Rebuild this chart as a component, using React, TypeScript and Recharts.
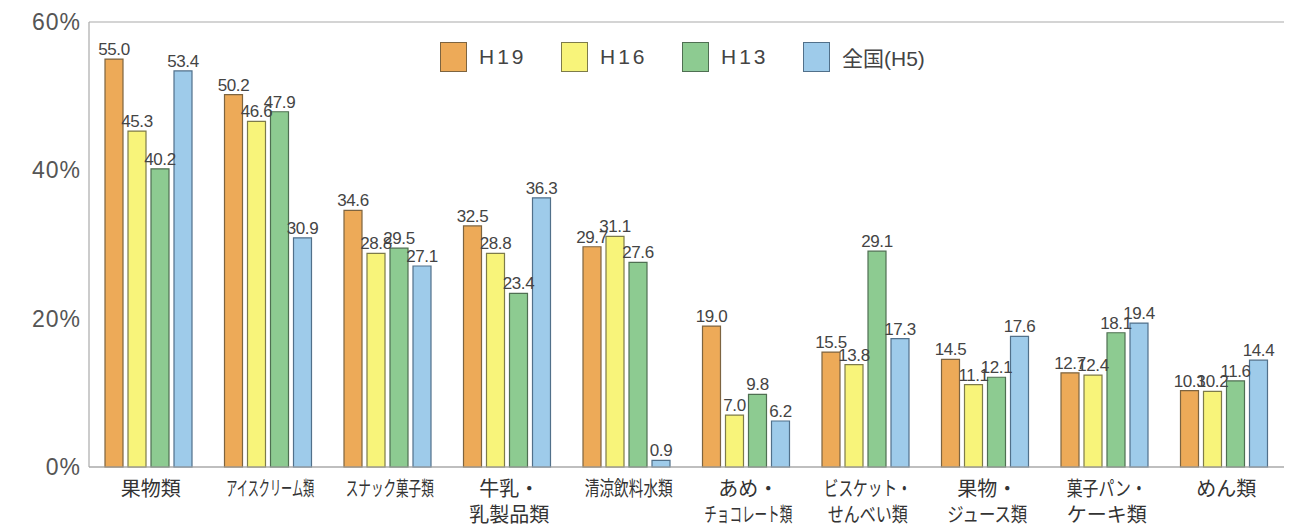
import { BarChart, Bar, XAxis, YAxis, CartesianGrid, Legend, LabelList } from "recharts";

const categories = [
    "果物類",
    "アイスクリーム類",
    "スナック菓子類",
    "牛乳・\n乳製品類",
    "清涼飲料水類",
    "あめ・\nチョコレート類",
    "ビスケット・\nせんべい類",
    "果物・\nジュース類",
    "菓子パン・\nケーキ類",
    "めん類",
];

const h19 = [55.0, 50.2, 34.6, 32.5, 29.7, 19.0, 15.5, 14.5, 12.7, 10.3];
const h16 = [45.3, 46.6, 28.8, 28.8, 31.1, 7.0, 13.8, 11.1, 12.4, 10.2];
const h13 = [40.2, 47.9, 29.5, 23.4, 27.6, 9.8, 29.1, 12.1, 18.1, 11.6];
const zenkoku = [53.4, 30.9, 27.1, 36.3, 0.9, 6.2, 17.3, 17.6, 19.4, 14.4];

const yTicks = [0, 20, 40, 60];

const data = categories.map((name, i) => ({
    name,
    h19: h19[i],
    h16: h16[i],
    h13: h13[i],
    zenkoku: zenkoku[i],
}));

const series = [
    { key: "h19", name: "H19", fill: "#EDAA58", stroke: "#7d6440" },
    { key: "h16", name: "H16", fill: "#F8F47A", stroke: "#7d7b4a" },
    { key: "h13", name: "H13", fill: "#8DCB91", stroke: "#4f6f52" },
    { key: "zenkoku", name: "全国(H5)", fill: "#9ECBEA", stroke: "#51708a" },
];

const CategoryTick = (props: any) => {
    const { x, y, payload } = props;
    const lines = String(payload.value).split("\n");
    return (
        <g>
            {lines.map((line: string, i: number) => {
                const n = line.length;
                const extra = n >= 5 ? { textLength: Math.min(n * 16, 88), lengthAdjust: "spacingAndGlyphs" } : {};
                return (
                    <text
                        key={i}
                        x={x + 2}
                        y={y + 21 + i * 26}
                        textAnchor="middle"
                        fontSize={20}
                        fill="#333"
                        fontFamily="'Noto Sans CJK JP', sans-serif"
                        {...extra}
                    >
                        {line}
                    </text>
                );
            })}
        </g>
    );
};

const ValueLabel = (props: any) => {
    const { x, y, width, value } = props;
    return (
        <text
            x={x + width / 2}
            y={y - 4}
            textAnchor="middle"
            fontSize={17}
            letterSpacing={-0.4}
            fill="#444"
            fontFamily="'Liberation Sans', Arial, sans-serif"
        >
            {Number(value).toFixed(1)}
        </text>
    );
};

const LegendBox = () => (
    <div style={{ display: "flex", alignItems: "center", whiteSpace: "nowrap" }}>
        {series.map((s) => (
            <div key={s.key} style={{ display: "flex", alignItems: "center", width: 121 }}>
                <div
                    style={{
                        width: 27,
                        height: 30,
                        flexShrink: 0,
                        background: s.fill,
                        border: `1.5px solid ${s.stroke}`,
                        boxSizing: "border-box",
                    }}
                />
                <span
                    style={{
                        marginLeft: 12,
                        fontSize: 21,
                        color: "#444",
                        whiteSpace: "nowrap",
                        letterSpacing: s.key === "zenkoku" ? 0 : 3,
                        fontFamily: "'Liberation Sans', 'Noto Sans CJK JP', sans-serif",
                    }}
                >
                    {s.name}
                </span>
            </div>
        ))}
    </div>
);

export default function App() {
    return (
        <div style={{ position: "absolute", left: 0, top: 0, background: "#fff" }}>
            <BarChart
                width={1296}
                height={529}
                data={data}
                margin={{ top: 22, right: 12, left: 0, bottom: 0 }}
                barSize={18}
                barGap={5}
            >
                <CartesianGrid vertical={false} stroke="#aaa" strokeWidth={1.2} />
                <XAxis
                    dataKey="name"
                    tick={<CategoryTick />}
                    tickLine={false}
                    axisLine={{ stroke: "#aaa", strokeWidth: 1.2 }}
                    interval={0}
                    height={62}
                />
                <YAxis
                    yAxisId="left"
                    domain={[0, 60]}
                    ticks={yTicks}
                    tickFormatter={(v) => `${v}%`}
                    tickLine={false}
                    axisLine={{ stroke: "#aaa", strokeWidth: 1.2 }}
                    width={89}
                    tick={{ fontSize: 23, fill: "#555", fontFamily: "'Liberation Sans', Arial, sans-serif", letterSpacing: 1 }}
                />
                <YAxis
                    yAxisId="right"
                    orientation="right"
                    domain={[0, 60]}
                    ticks={yTicks}
                    tick={false}
                    tickLine={false}
                    axisLine={{ stroke: "#aaa", strokeWidth: 1.2 }}
                    width={0}
                />
                <Legend
                    layout="horizontal"
                    verticalAlign="middle"
                    align="center"
                    content={<LegendBox />}
                    wrapperStyle={{ position: "absolute", top: 42, left: 440, width: 500 }}
                />
                {series.map((s) => (
                    <Bar
                        key={s.key}
                        dataKey={s.key}
                        name={s.name}
                        yAxisId="left"
                        fill={s.fill}
                        stroke={s.stroke}
                        strokeWidth={1.2}
                        isAnimationActive={false}
                    >
                        <LabelList dataKey={s.key} content={<ValueLabel />} />
                    </Bar>
                ))}
            </BarChart>
        </div>
    );
}
